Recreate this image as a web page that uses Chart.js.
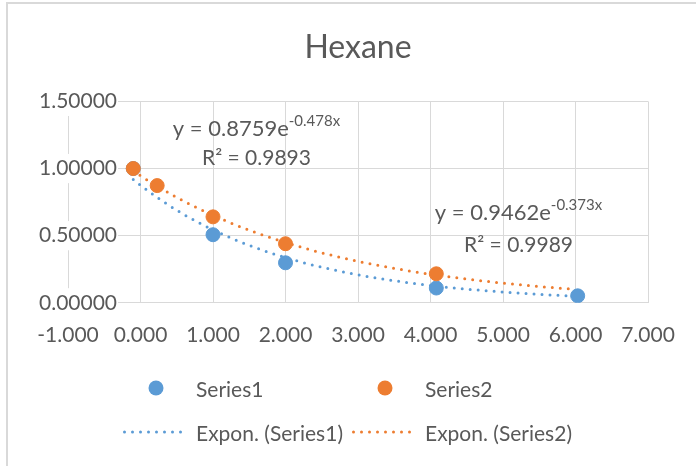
<!DOCTYPE html>
<html>
<head>
<meta charset="utf-8">
<title>Hexane</title>
<script src="https://cdn.jsdelivr.net/npm/chart.js@4.4.1/dist/chart.umd.min.js"></script>
<style>
  html, body { margin: 0; padding: 0; background: #fff; }
  #marco { position: relative; width: 696px; height: 466px; overflow: hidden; }
  #borde { position: absolute; left: 6px; top: 2px; right: -10px; bottom: -10px;
           border-left: 2px solid #d9d9d9; border-top: 2px solid #d9d9d9; pointer-events: none; }
  #leyenda { position: absolute; left: 123px; top: 366px; display: grid;
             grid-template-columns: 229px 229px; grid-auto-rows: 44px;
             font: 21px Lato, sans-serif; color: #595959; }
  .item { display: flex; align-items: center; white-space: nowrap; }
  .marca { width: 66px; height: 20px; margin-right: 7px; flex: none; }
</style>
</head>
<body>
<div id="marco">
  <canvas id="graficoHexano" width="696" height="466"></canvas>
  <div id="borde"></div>
  <div id="leyenda"></div>
</div>
<script>
// Datos
const nombres = ['Series1', 'Series2'];
const serie1X = [-0.1, 1.0, 2.0, 4.08, 6.03];
const serie1Y = [1.0, 0.507, 0.298, 0.11, 0.052];
const serie2X = [-0.1, 0.23, 1.0, 2.0, 4.08];
const serie2Y = [1.0, 0.873, 0.64, 0.44, 0.216];

// Líneas de tendencia exponencial: y = a·e^(b·x), coeficientes tal como aparecen en el gráfico
const tendencia1 = [0.8759, -0.478];
const tendencia2 = [0.9462, -0.373];
const erre2 = [0.9893, 0.9989];
const rango1 = [-0.1, 6.03];
const rango2 = [-0.1, 5.97];

const ticksX = { min: -1, max: 7, paso: 1 };
const ticksY = { min: 0, max: 1.5, paso: 0.5 };

const azul = '#5B9BD5';
const naranja = '#ED7D31';
const gris = '#595959';
const rejilla = '#d9d9d9';

Chart.defaults.font.family = 'Lato, sans-serif';
Chart.defaults.color = gris;

function puntos(xs, ys) {
    return xs.map((x, i) => ({ x: x, y: ys[i] }));
}

// Curva de la tendencia evaluada a lo largo de su rango
function curva(coef, rango) {
    let datos = [];
    const n = 80;
    for (let i = 0; i <= n; i++) {
        let x = rango[0] + (rango[1] - rango[0]) * i / n;
        datos.push({ x: x, y: coef[0] * Math.exp(coef[1] * x) });
    }
    return datos;
}

// Posición de las etiquetas de ecuación (en unidades de los ejes)
const posEcuaciones = [
    { x: 1.6, y1: 1.239, y2: 1.024 },
    { x: 5.214, y1: 0.619, y2: 0.381 }
];

const pluginEcuaciones = {
    id: 'ecuaciones',
    afterDatasetsDraw(chart) {
        const ctx = chart.ctx;
        const ejeX = chart.scales.x;
        const ejeY = chart.scales.y;
        const coefs = [tendencia1, tendencia2];
        posEcuaciones.forEach((p, i) => {
            let cx = ejeX.getPixelForValue(p.x);
            let b1 = ejeY.getPixelForValue(p.y1);
            let b2 = ejeY.getPixelForValue(p.y2);
            let principal = 'y = ' + coefs[i][0].toFixed(4) + 'e';
            let sup = coefs[i][1].toFixed(3) + 'x';
            ctx.save();
            ctx.fillStyle = gris;
            ctx.textBaseline = 'alphabetic';
            ctx.font = '22px Lato';
            let w1 = ctx.measureText(principal).width;
            ctx.font = '15px Lato';
            let w2 = ctx.measureText(sup).width;
            let x0 = cx - (w1 + w2) / 2;
            ctx.textAlign = 'left';
            ctx.font = '22px Lato';
            ctx.fillText(principal, x0, b1);
            ctx.font = '15px Lato';
            ctx.fillText(sup, x0 + w1, b1 - 10);
            ctx.font = '21px Lato';
            ctx.textAlign = 'center';
            ctx.fillText('R² = ' + erre2[i].toFixed(4), cx, b2);
            ctx.restore();
        });
    }
};

const ctx = document.getElementById('graficoHexano').getContext('2d');
const grafico = new Chart(ctx, {
    type: 'scatter',
    data: {
        datasets: [
            {
                label: nombres[0],
                data: puntos(serie1X, serie1Y),
                backgroundColor: azul,
                borderColor: azul,
                borderWidth: 1,
                pointRadius: 7,
                pointHoverRadius: 7,
                order: 1
            },
            {
                label: nombres[1],
                data: puntos(serie2X, serie2Y),
                backgroundColor: naranja,
                borderColor: naranja,
                borderWidth: 1,
                pointRadius: 7,
                pointHoverRadius: 7,
                order: 0
            },
            {
                label: 'Expon. (' + nombres[0] + ')',
                data: curva(tendencia1, rango1),
                showLine: true,
                borderColor: azul,
                borderWidth: 3,
                borderDash: [0, 8],
                borderCapStyle: 'round',
                pointRadius: 0,
                order: 3
            },
            {
                label: 'Expon. (' + nombres[1] + ')',
                data: curva(tendencia2, rango2),
                showLine: true,
                borderColor: naranja,
                borderWidth: 3,
                borderDash: [0, 8],
                borderCapStyle: 'round',
                pointRadius: 0,
                order: 2
            }
        ]
    },
    options: {
        responsive: false,
        animation: false,
        layout: { padding: { left: 68, right: 48, top: 0, bottom: 98 } },
        plugins: {
            legend: { display: false },
            tooltip: { enabled: false },
            title: {
                display: true,
                text: 'Hexane',
                color: gris,
                font: { size: 32, weight: 'normal' },
                padding: { top: 28, bottom: 35 }
            }
        },
        scales: {
            x: {
                type: 'linear',
                min: ticksX.min,
                max: ticksX.max,
                ticks: {
                    stepSize: ticksX.paso,
                    callback: v => v.toFixed(3),
                    font: { size: 21 },
                    color: gris,
                    padding: 20,
                    maxRotation: 0
                },
                grid: { color: rejilla, drawTicks: false, tickLength: 0 },
                border: { color: rejilla }
            },
            y: {
                min: ticksY.min,
                max: ticksY.max,
                ticks: {
                    stepSize: ticksY.paso,
                    callback: v => v.toFixed(5),
                    font: { size: 21 },
                    color: gris,
                    mirror: true,
                    padding: -29,
                    showLabelBackdrop: true,
                    backdropColor: '#ffffff',
                    backdropPadding: { x: 1, y: 2 }
                },
                grid: { color: rejilla, drawTicks: false, tickLength: 0 },
                border: { color: rejilla },
                afterFit(escala) { escala.width = 0; }
            }
        }
    },
    plugins: [pluginEcuaciones]
});

// Leyenda en HTML, construida a partir de los datasets
function marcaSVG(ds) {
    if (ds.showLine) {
        return '<svg class="marca" viewBox="0 0 66 20"><line x1="1.5" y1="10" x2="64.5" y2="10" stroke="' +
            ds.borderColor + '" stroke-width="3" stroke-linecap="round" stroke-dasharray="0 8"/></svg>';
    }
    return '<svg class="marca" viewBox="0 0 66 20"><circle cx="33" cy="10" r="7.5" fill="' +
        ds.backgroundColor + '"/></svg>';
}

const leyenda = document.getElementById('leyenda');
grafico.data.datasets.forEach(ds => {
    let item = document.createElement('div');
    item.className = 'item';
    item.innerHTML = marcaSVG(ds);
    let texto = document.createElement('span');
    texto.textContent = ds.label;
    item.appendChild(texto);
    leyenda.appendChild(item);
});
</script>
</body>
</html>
